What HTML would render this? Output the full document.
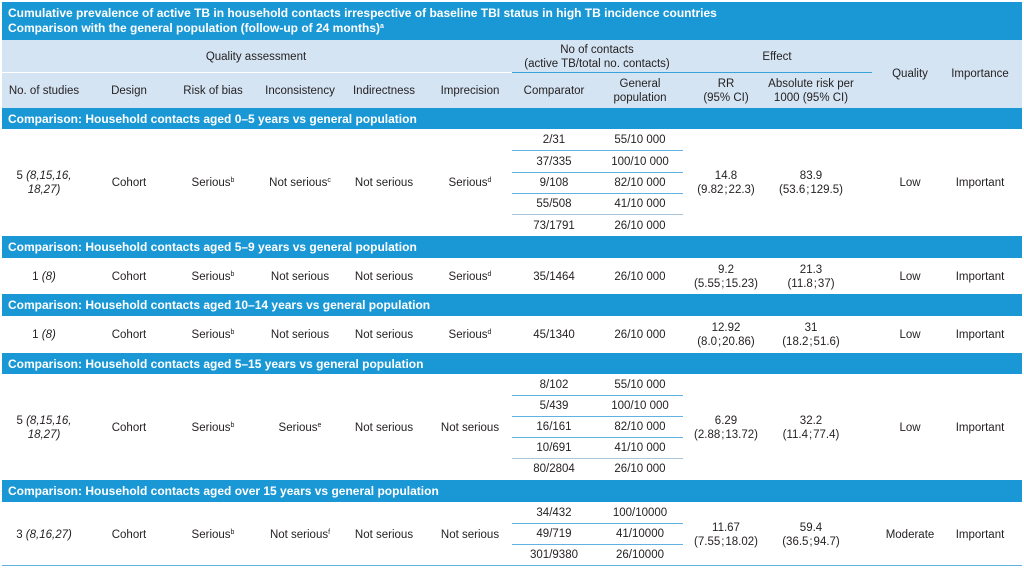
<!DOCTYPE html>
<html><head><meta charset="utf-8"><style>
body{margin:0;width:1024px;height:568px;background:#fff;position:relative;overflow:hidden;font-family:"Liberation Sans",sans-serif;font-size:11.5px;color:#231f20}
.b{position:absolute;left:2px;width:1020px;background:#1a98d5}
.h{position:absolute;left:2px;width:1020px;background:#d4e4f3}
.st{position:absolute;left:8px;color:#fff;font-weight:bold;font-size:12px;line-height:14px}
.t{position:absolute;transform:translate(-50%,-50%);white-space:nowrap;text-align:center;line-height:14px}
.l{position:absolute;height:1px;background:#5fb3e3}
sup{font-size:7px;vertical-align:4px;line-height:0}
</style></head><body>
<div class="b" style="top:2px;height:38px"></div>
<div class="st" style="top:6px">Cumulative prevalence of active TB in household contacts irrespective of baseline TBI status in high TB incidence countries</div>
<div class="st" style="top:21px">Comparison with the general population (follow-up of 24 months)<sup>a</sup></div>
<div class="h" style="top:40px;height:68px"></div>
<div class="l" style="top:72px;left:2px;width:510px;background:#fff"></div>
<div class="l" style="top:72px;left:512px;width:360px;background:#3aa3dc"></div>
<div class="t" style="left:256px;top:57px">Quality assessment</div>
<div class="t" style="left:597px;top:57px">No of contacts<br>(active TB/total no. contacts)</div>
<div class="t" style="left:777px;top:57px">Effect</div>
<div class="t" style="left:910px;top:74px">Quality</div>
<div class="t" style="left:980px;top:74px">Importance</div>
<div class="t" style="left:44px;top:91px">No. of studies</div>
<div class="t" style="left:129px;top:91px">Design</div>
<div class="t" style="left:213px;top:91px">Risk of bias</div>
<div class="t" style="left:300px;top:91px">Inconsistency</div>
<div class="t" style="left:384px;top:91px">Indirectness</div>
<div class="t" style="left:470px;top:91px">Imprecision</div>
<div class="t" style="left:554px;top:91px">Comparator</div>
<div class="t" style="left:640px;top:91px">General<br>population</div>
<div class="t" style="left:726px;top:91px">RR<br>(95% CI)</div>
<div class="t" style="left:811px;top:91px">Absolute risk per<br>1000 (95% CI)</div>

<div class="b" style="top:108px;height:21px"></div>
<div class="st" style="top:112px">Comparison: Household contacts aged 0–5 years vs general population</div>
<div class="t" style="left:554px;top:140px">2/31</div><div class="t" style="left:640px;top:140px">55/10 000</div>
<div class="l" style="top:150px;left:512px;width:171px"></div>
<div class="t" style="left:554px;top:162px">37/335</div><div class="t" style="left:640px;top:162px">100/10 000</div>
<div class="l" style="top:172px;left:512px;width:171px"></div>
<div class="t" style="left:554px;top:183px">9/108</div><div class="t" style="left:640px;top:183px">82/10 000</div>
<div class="l" style="top:193px;left:512px;width:171px"></div>
<div class="t" style="left:554px;top:204px">55/508</div><div class="t" style="left:640px;top:204px">41/10 000</div>
<div class="l" style="top:214px;left:512px;width:171px;background:#a9c6da"></div>
<div class="t" style="left:554px;top:226px">73/1791</div><div class="t" style="left:640px;top:226px">26/10 000</div>
<div class="t" style="left:44px;top:183px">5 <i>(8,15,16,<br>18,27)</i></div>
<div class="t" style="left:129px;top:183px">Cohort</div>
<div class="t" style="left:213px;top:183px">Serious<sup>b</sup></div>
<div class="t" style="left:300px;top:183px">Not serious<sup>c</sup></div>
<div class="t" style="left:384px;top:183px">Not serious</div>
<div class="t" style="left:470px;top:183px">Serious<sup>d</sup></div>
<div class="t" style="left:726px;top:183px">14.8<br>(9.82&#8202;;&#8202;22.3)</div>
<div class="t" style="left:811px;top:183px">83.9<br>(53.6&#8202;;&#8202;129.5)</div>
<div class="t" style="left:910px;top:183px">Low</div>
<div class="t" style="left:980px;top:183px">Important</div>

<div class="b" style="top:236px;height:22px"></div>
<div class="st" style="top:240px">Comparison: Household contacts aged 5–9 years vs general population</div>
<div class="t" style="left:44px;top:277px">1 <i>(8)</i></div>
<div class="t" style="left:129px;top:277px">Cohort</div>
<div class="t" style="left:213px;top:277px">Serious<sup>b</sup></div>
<div class="t" style="left:300px;top:277px">Not serious</div>
<div class="t" style="left:384px;top:277px">Not serious</div>
<div class="t" style="left:470px;top:277px">Serious<sup>d</sup></div>
<div class="t" style="left:554px;top:277px">35/1464</div>
<div class="t" style="left:640px;top:277px">26/10 000</div>
<div class="t" style="left:726px;top:277px">9.2<br>(5.55&#8202;;&#8202;15.23)</div>
<div class="t" style="left:811px;top:277px">21.3<br>(11.8&#8202;;&#8202;37)</div>
<div class="t" style="left:910px;top:277px">Low</div>
<div class="t" style="left:980px;top:277px">Important</div>

<div class="b" style="top:294px;height:22px"></div>
<div class="st" style="top:298px">Comparison: Household contacts aged 10–14 years vs general population</div>
<div class="t" style="left:44px;top:335px">1 <i>(8)</i></div>
<div class="t" style="left:129px;top:335px">Cohort</div>
<div class="t" style="left:213px;top:335px">Serious<sup>b</sup></div>
<div class="t" style="left:300px;top:335px">Not serious</div>
<div class="t" style="left:384px;top:335px">Not serious</div>
<div class="t" style="left:470px;top:335px">Serious<sup>d</sup></div>
<div class="t" style="left:554px;top:335px">45/1340</div>
<div class="t" style="left:640px;top:335px">26/10 000</div>
<div class="t" style="left:726px;top:335px">12.92<br>(8.0&#8202;;&#8202;20.86)</div>
<div class="t" style="left:811px;top:335px">31<br>(18.2&#8202;;&#8202;51.6)</div>
<div class="t" style="left:910px;top:335px">Low</div>
<div class="t" style="left:980px;top:335px">Important</div>

<div class="b" style="top:353px;height:21px"></div>
<div class="st" style="top:357px">Comparison: Household contacts aged 5–15 years vs general population</div>
<div class="t" style="left:554px;top:385px">8/102</div><div class="t" style="left:640px;top:385px">55/10 000</div>
<div class="l" style="top:395px;left:512px;width:171px"></div>
<div class="t" style="left:554px;top:406px">5/439</div><div class="t" style="left:640px;top:406px">100/10 000</div>
<div class="l" style="top:416px;left:512px;width:171px"></div>
<div class="t" style="left:554px;top:427px">16/161</div><div class="t" style="left:640px;top:427px">82/10 000</div>
<div class="l" style="top:437px;left:512px;width:171px"></div>
<div class="t" style="left:554px;top:448px">10/691</div><div class="t" style="left:640px;top:448px">41/10 000</div>
<div class="l" style="top:458px;left:512px;width:171px;background:#a9c6da"></div>
<div class="t" style="left:554px;top:469px">80/2804</div><div class="t" style="left:640px;top:469px">26/10 000</div>
<div class="t" style="left:44px;top:428px">5 <i>(8,15,16,<br>18,27)</i></div>
<div class="t" style="left:129px;top:428px">Cohort</div>
<div class="t" style="left:213px;top:428px">Serious<sup>b</sup></div>
<div class="t" style="left:300px;top:428px">Serious<sup>e</sup></div>
<div class="t" style="left:384px;top:428px">Not serious</div>
<div class="t" style="left:470px;top:428px">Not serious</div>
<div class="t" style="left:726px;top:428px">6.29<br>(2.88&#8202;;&#8202;13.72)</div>
<div class="t" style="left:811px;top:428px">32.2<br>(11.4&#8202;;&#8202;77.4)</div>
<div class="t" style="left:910px;top:428px">Low</div>
<div class="t" style="left:980px;top:428px">Important</div>

<div class="b" style="top:480px;height:22px"></div>
<div class="st" style="top:484px">Comparison: Household contacts aged over 15 years vs general population</div>
<div class="t" style="left:554px;top:513px">34/432</div><div class="t" style="left:640px;top:513px">100/10000</div>
<div class="l" style="top:523px;left:512px;width:171px"></div>
<div class="t" style="left:554px;top:534px">49/719</div><div class="t" style="left:640px;top:534px">41/10000</div>
<div class="l" style="top:544px;left:512px;width:171px"></div>
<div class="t" style="left:554px;top:555px">301/9380</div><div class="t" style="left:640px;top:555px">26/10000</div>
<div class="t" style="left:44px;top:535px">3 <i>(8,16,27)</i></div>
<div class="t" style="left:129px;top:535px">Cohort</div>
<div class="t" style="left:213px;top:535px">Serious<sup>b</sup></div>
<div class="t" style="left:300px;top:535px">Not serious<sup>f</sup></div>
<div class="t" style="left:384px;top:535px">Not serious</div>
<div class="t" style="left:470px;top:535px">Not serious</div>
<div class="t" style="left:726px;top:535px">11.67<br>(7.55&#8202;;&#8202;18.02)</div>
<div class="t" style="left:811px;top:535px">59.4<br>(36.5&#8202;;&#8202;94.7)</div>
<div class="t" style="left:910px;top:535px">Moderate</div>
<div class="t" style="left:980px;top:535px">Important</div>
<div class="l" style="top:565px;left:2px;width:1020px;background:#5fb3e3"></div>
</body></html>
